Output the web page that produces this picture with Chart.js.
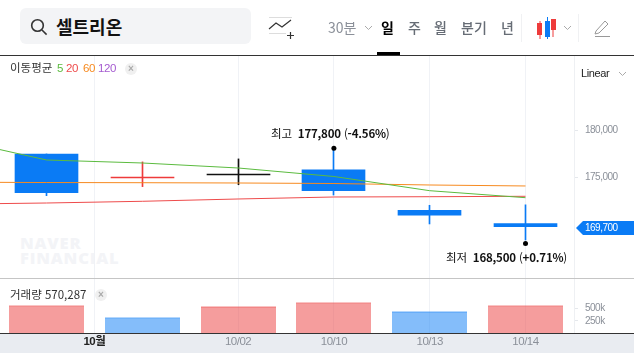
<!DOCTYPE html>
<html lang="ko">
<head>
<meta charset="UTF-8">
<title>셀트리온</title>
<script src="https://cdn.jsdelivr.net/npm/chart.js"></script>
<style>
  html, body { margin: 0; padding: 0; background: #fff; overflow: hidden; }
  body { width: 634px; height: 353px; position: relative; font-family: "Noto Sans CJK KR", sans-serif; color: #222; }
  .abs { position: absolute; white-space: nowrap; line-height: 1; }
  canvas { position: absolute; left: 0; top: 0; }
  #band { left: 0; top: 333px; width: 634px; height: 20px; background: #e9ecf1; }
  #watermark { left: 20px; top: 235px; font: 800 16.5px/15px "Open Sans", sans-serif; color: #f3f4f7; letter-spacing: 0.8px; white-space: pre; }
  #search { left: 20px; top: 8px; width: 231px; height: 36px; background: #f3f4f6; border-radius: 6px; }
  #name { left: 56px; top: 17px; font-size: 18px; font-weight: 700; color: #111; }
  .tab { top: 20px; font-size: 14px; font-weight: 500; color: #666c75; }
  .sep { width: 1px; top: 14px; height: 28px; background: #f0f1f3; }
  .x { width: 12px; height: 12px; border-radius: 6px; background: #f0f0f0; color: #aaa; font: 700 10px/12px "Liberation Sans", sans-serif; text-align: center; }
  .legend { font: 11.5px "Liberation Sans", "Noto Sans CJK KR", sans-serif; letter-spacing: -0.4px; }
  .ann { font-size: 11.5px; color: #111; letter-spacing: -0.2px; }
  .ann b { font-weight: 700; }
</style>
</head>
<body>
<div class="abs" id="band"></div>
<div class="abs" id="watermark">NAVER
FINANCIAL</div>
<canvas id="chart" width="634" height="353"></canvas>

<div class="abs" id="search"></div>
<svg class="abs" style="left:30px;top:18px" width="18" height="18" viewBox="0 0 18 18" fill="none" stroke="#333" stroke-width="1.6"><circle cx="7.5" cy="7.5" r="5.8"/><path d="M12 12l4.6 4.6"/></svg>
<div class="abs" id="name">셀트리온</div>
<svg class="abs" style="left:268px;top:16px" width="26" height="24" viewBox="0 0 26 24" fill="none"><path d="M1 1.5h23M1 17.5h17" stroke="#ddd"/><path d="M1 13l7-6 6 4 9-7" stroke="#333" stroke-width="1.2"/><path d="M19 19.5h7M22.5 16v7" stroke="#333" stroke-width="1.2"/></svg>
<div class="abs tab" style="left:328px;color:#8b9099;font-weight:400">30분</div>
<svg class="abs" style="left:364px;top:25px" width="9" height="6" fill="none" stroke="#aaa"><path d="M1 1l3.5 3.5L8 1"/></svg>
<div class="abs tab" style="left:381px;color:#000;font-weight:700">일</div>
<div class="abs tab" style="left:408px">주</div>
<div class="abs tab" style="left:434px">월</div>
<div class="abs tab" style="left:461px">분기</div>
<div class="abs tab" style="left:501px">년</div>
<div class="abs" style="left:377px;top:52px;width:23px;height:3px;background:#000"></div>
<div class="abs sep" style="left:521px"></div>
<svg class="abs" style="left:535px;top:16px" width="22" height="24"><path d="M5 5v18M18 3v18" stroke="#ee3b3b"/><path d="M12.500 1v22" stroke="#0a7bf5"/><rect x="2" y="7" width="5" height="12" fill="#ee3b3b"/><rect x="10" y="5" width="5" height="16" fill="#0a7bf5"/><rect x="16" y="3" width="5" height="11" fill="#ee3b3b"/></svg>
<svg class="abs" style="left:563px;top:25px" width="9" height="6" fill="none" stroke="#aaa"><path d="M1 1l3.5 3.5L8 1"/></svg>
<div class="abs sep" style="left:578px"></div>
<svg class="abs" style="left:594px;top:18px" width="18" height="20" fill="none" stroke="#999"><path d="M2 13L11 3l3 3-9 9-4 1zM1 18.500h15"/></svg>
<div class="abs" style="left:0;top:55px;width:634px;height:1px;background:#333"></div>

<div class="abs" style="left:10px;top:62px;font-size:11.5px;color:#333">이동평균</div>
<div class="abs legend" style="left:57px;top:62px;color:#5bbb3f">5</div>
<div class="abs legend" style="left:66px;top:62px;color:#ee4b4b">20</div>
<div class="abs legend" style="left:83px;top:62px;color:#f78a1f">60</div>
<div class="abs legend" style="left:98px;top:62px;color:#a55bd0">120</div>
<div class="abs x" style="left:125px;top:63px">×</div>
<div class="abs" style="left:581px;top:67px;font:11px 'Liberation Sans',sans-serif;letter-spacing:-0.4px;color:#222">Linear</div>
<svg class="abs" style="left:618px;top:71px" width="9" height="6" fill="none" stroke="#aaa"><path d="M1 1l3.5 3.5L8 1"/></svg>

<div class="abs ann" style="left:271px;top:128px">최고 &nbsp;<b>177,800</b> (<b>-4.56%</b>)</div>
<div class="abs ann" style="left:446px;top:252px">최저 &nbsp;<b>168,500</b> (<b>+0.71%</b>)</div>

<div class="abs" style="left:0;top:278px;width:634px;height:1px;background:#c5c5c5"></div>
<div class="abs" style="left:10px;top:289px;font-size:11.5px;color:#333">거래량 570,287</div>
<div class="abs x" style="left:95px;top:289px">×</div>

<script>
  // 일봉 (index 0 = 첫 캔들)
  const candleX = [0, 1, 2, 3, 4, 5];
  const opens = [177500, 175030, 175350, 175800, 171450, 170050];
  const closes = [173350, 174925, 175245, 173560, 170950, 169700];
  const highs = [177500, 176650, 176970, 178100, 172000, 172050];
  const lows = [173030, 174000, 174200, 173100, 170000, 168280];
  const candleColors = ["#0a7bf5", "#ee3b3b", "#111111", "#0a7bf5", "#0a7bf5", "#0a7bf5"];

  // 이동평균 (-1 은 화면 왼쪽 밖의 점)
  const maX = [-1, 0, 1, 2, 3, 4, 5];
  const ma5 = [179150, 176854, 176533, 175997, 175086, 173564, 172814];
  const ma20 = [172117, 172245, 172428, 172674, 172889, 172920, 172964];
  const ma60 = [174475, 174440, 174420, 174390, 174335, 174175, 174070];

  const volumes = [570287, 323000, 549000, 632000, 446000, 570287];
  const volumeColors = ["up", "down", "up", "up", "down", "up"];

  const xTickValues = [0.5, 2, 3, 4, 5];
  const xTickLabels = ["10월", "10/02", "10/10", "10/13", "10/14"];
  const priceTicks = [175000, 180000];
  const volumeTicks = [250000, 500000];

  const lastPrice = 169700;
  const markerX = [3, 5];
  const markerY = [178100, 167900];

  const axisFont = '"Liberation Sans", "Noto Sans CJK KR", sans-serif';

  // 현재가 태그
  const priceTag = {
    id: "priceTag",
    afterDraw(chart) {
      const ctx = chart.ctx;
      const y = Math.round(chart.scales.y.getPixelForValue(lastPrice)) + 1;
      ctx.save();
      ctx.fillStyle = "#0a7bf5";
      ctx.beginPath();
      ctx.moveTo(576, y);
      ctx.lineTo(583, y - 7);
      ctx.lineTo(634, y - 7);
      ctx.lineTo(634, y + 7);
      ctx.lineTo(583, y + 7);
      ctx.closePath();
      ctx.fill();
      ctx.fillStyle = "#fff";
      ctx.font = "10px " + axisFont;
      ctx.textBaseline = "middle";
      ctx.fillText(lastPrice.toLocaleString("en-US"), 585, y);
      // 차트 하단 축선
      const bottom = chart.chartArea.bottom;
      ctx.fillStyle = "#333";
      ctx.fillRect(0, bottom, 634, 1);
      ctx.restore();
    }
  };

  // 봉을 픽셀에 맞춰서 번지지 않게, 축 글자는 좁게
  const snapBars = {
    id: "snapBars",
    beforeDraw(chart) {
      chart.ctx.letterSpacing = "-0.5px";
    },
    beforeDatasetsDraw(chart) {
      chart.getSortedVisibleDatasetMetas().forEach(meta => {
        if (meta.type !== "bar") return;
        meta.data.forEach(bar => { bar.x = Math.floor(bar.x) + 0.5; });
      });
    }
  };

  function maDataset(values, color) {
    return {
      type: "line",
      yAxisID: "y",
      data: maX.map((x, i) => ({ x: x, y: values[i] })),
      borderColor: color,
      borderWidth: 1,
      pointRadius: 0,
      tension: 0,
      order: 1
    };
  }

  const rightTicks = { color: "#8b9099", font: { family: axisFont, size: 10 }, padding: 7 };

  new Chart(document.getElementById("chart"), {
    data: {
      datasets: [
        {
          type: "line",
          yAxisID: "y",
          data: markerX.map((x, i) => ({ x: x, y: markerY[i] })),
          showLine: false,
          pointRadius: 2.5,
          pointBackgroundColor: "#000",
          pointBorderWidth: 0,
          order: 0
        },
        maDataset(ma5, "#5bbb3f"),
        maDataset(ma20, "#ee4b4b"),
        maDataset(ma60, "#f78a1f"),
        {
          type: "bar",
          yAxisID: "y",
          grouped: false,
          data: candleX.map((x, i) => ({ x: x, y: [opens[i], closes[i]] })),
          backgroundColor: candleColors,
          barThickness: 63,
          order: 2
        },
        {
          type: "bar",
          yAxisID: "y",
          grouped: false,
          data: candleX.map((x, i) => ({ x: x, y: [lows[i], highs[i]] })),
          backgroundColor: candleColors,
          barThickness: 1,
          order: 3
        },
        {
          type: "bar",
          yAxisID: "yv",
          grouped: false,
          data: candleX.map((x, i) => ({ x: x, y: volumes[i] })),
          backgroundColor: volumeColors.map(c => c === "up" ? "rgba(236,60,60,0.5)" : "rgba(10,123,245,0.5)"),
          borderColor: volumeColors.map(c => c === "up" ? "rgba(236,60,60,0.3)" : "rgba(10,123,245,0.3)"),
          borderWidth: { top: 1 },
          barThickness: 75,
          order: 4
        }
      ]
    },
    options: {
      responsive: false,
      animation: false,
      layout: { autoPadding: false, padding: { top: 56 } },
      plugins: { legend: { display: false }, tooltip: { enabled: false } },
      scales: {
        x: {
          type: "linear",
          offset: false,
          min: -0.48539,
          max: 5.50626,
          afterFit(scale) {
            scale.height = 20;
            scale.paddingLeft = 0;
            scale.paddingRight = 0;
          },
          afterBuildTicks(scale) { scale.ticks = xTickValues.map(v => ({ value: v })); },
          grid: { color: "#f0f2f6", drawTicks: false, offset: false },
          border: { display: false },
          ticks: {
            autoSkip: false,
            maxRotation: 0,
            padding: 2,
            callback: value => xTickLabels[xTickValues.indexOf(value)],
            color: ctx => ctx.index === 0 ? "#222" : "#8b9099",
            font: ctx => ({ family: axisFont, size: 11.5, weight: ctx.index === 0 ? "700" : "400" })
          }
        },
        y: {
          position: "right",
          stack: "panes",
          stackWeight: 222,
          min: 164207,
          max: 188000,
          afterFit(scale) { scale.width = 60; },
          afterBuildTicks(scale) { scale.ticks = priceTicks.map(v => ({ value: v })); },
          grid: { drawOnChartArea: false, color: "#e5e8ec", tickLength: 4 },
          border: { color: "#eef0f3" },
          ticks: { ...rightTicks, callback: value => value.toLocaleString("en-US") }
        },
        yv: {
          position: "right",
          stack: "panes",
          stackWeight: 55,
          min: 0,
          max: 1131000,
          afterFit(scale) { scale.width = 60; },
          afterBuildTicks(scale) { scale.ticks = volumeTicks.map(v => ({ value: v })); },
          grid: { drawOnChartArea: false, color: "#e5e8ec", tickLength: 4 },
          border: { color: "#eef0f3" },
          ticks: { ...rightTicks, callback: value => (value / 1000) + "k" }
        }
      }
    },
    plugins: [priceTag, snapBars]
  });
</script>
</body>
</html>
